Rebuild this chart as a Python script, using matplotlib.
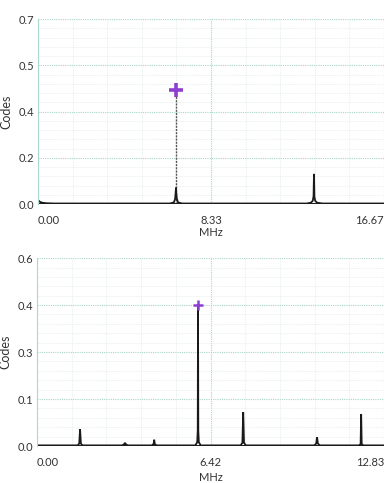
import matplotlib
matplotlib.use("Agg")
import matplotlib.pyplot as plt
import numpy as np

plt.rcParams['font.family'] = ['Lato', 'DejaVu Sans']

# top spectrum (MHz, Codes)
f_top = [0.0, 0.04, 0.1, 0.2, 0.4, 0.8, 6.35, 6.55, 6.61, 6.64, 6.65, 6.66, 6.69, 6.75, 6.95,
         12.95, 13.15, 13.24, 13.28, 13.3, 13.32, 13.36, 13.45, 13.7, 16.67]
a_top = [0.014, 0.012, 0.008, 0.005, 0.003, 0.002, 0.002, 0.006, 0.02, 0.05, 0.062, 0.045, 0.02, 0.006, 0.002,
         0.002, 0.005, 0.012, 0.03, 0.114, 0.028, 0.012, 0.005, 0.002, 0.002]
top_peak = (6.65, 0.43)
top_xticks = [0.0, 8.335, 16.67]
top_xlabels = ['0.00', '8.33', '16.67']
top_yticks = [0.0, 0.175, 0.35, 0.525, 0.7]
top_ylabels = ['0.0', '0.2', '0.4', '0.5', '0.7']

# bottom spectrum
f_bot = [0.0, 1.5, 1.56, 1.59, 1.62, 1.68, 3.15, 3.22, 3.25, 3.28, 3.35, 4.25, 4.31, 4.33, 4.35, 4.41,
         5.85, 5.92, 5.94, 5.95, 5.96, 5.98, 6.05, 7.52, 7.59, 7.62, 7.65, 7.72,
         10.25, 10.32, 10.35, 10.38, 10.45, 11.9, 11.96, 11.98, 12.0, 12.06, 12.83]
a_bot = [0.002, 0.002, 0.008, 0.054, 0.008, 0.002, 0.002, 0.006, 0.01, 0.006, 0.002, 0.002, 0.007, 0.02, 0.007, 0.002,
         0.002, 0.012, 0.05, 0.45, 0.05, 0.012, 0.002, 0.002, 0.01, 0.108, 0.01, 0.002,
         0.002, 0.008, 0.028, 0.008, 0.002, 0.002, 0.006, 0.102, 0.006, 0.002, 0.002]
bot_peak = (5.95, 0.45)
bot_xticks = [0.0, 6.415, 12.83]
bot_xlabels = ['0.00', '6.42', '12.83']
bot_yticks = [0.0, 0.15, 0.3, 0.45, 0.6]
bot_ylabels = ['0.0', '0.1', '0.3', '0.4', '0.6']

fig = plt.figure(figsize=(3.9, 4.83), dpi=100)

def panel(rect, f, a, peak, xt, xl, yt, yl, msize, mew, dotted_stem, xlab_y):
    ax = fig.add_axes(rect)
    xmax = xt[-1]
    ymax = yt[-1]
    ax.set_xlim(0, xmax)
    ax.set_ylim(0, ymax)
    ax.set_xticks(xt)
    ax.set_xticklabels(xl)
    ax.set_yticks(yt)
    ax.set_yticklabels(yl)
    ax.set_xticks(np.linspace(0, xmax, 11), minor=True)
    ax.set_yticks(np.linspace(0, ymax, 21), minor=True)
    ax.grid(which='minor', color='#e4ecea', lw=0.6, ls=(0, (1, 1)))
    ax.grid(which='major', color='#a9d6cc', lw=0.8, ls=(0, (1, 1)))
    ax.set_axisbelow(True)
    for s in ['top', 'right', 'bottom']:
        ax.spines[s].set_visible(False)
    ax.spines['left'].set_color('#a9d9cf')
    ax.tick_params(which='both', length=0, labelsize=8, colors='#333333')
    ax.tick_params(axis='x', pad=8)
    ax.tick_params(axis='y', pad=3)
    labs = ax.get_xticklabels()
    labs[0].set_ha('left')
    labs[-1].set_ha('right')
    if dotted_stem:
        ax.vlines(peak[0], 0, peak[1], color='#555555', lw=1.0, ls=(0, (1.5, 0.8)))
    ax.plot(f, a, color='#1a1a1a', lw=1.3, solid_joinstyle='miter')
    ax.axhline(0.001 * ymax, color='#1a1a1a', lw=1.4)
    ax.plot([peak[0]], [peak[1]], marker='+', color='#8e3fd0', ms=msize, mew=mew, clip_on=False)
    ax.set_xlabel('MHz', fontsize=8, color='#333333')
    ax.set_ylabel('Codes', fontsize=9, color='#333333')
    ax.xaxis.set_label_coords(0.5, xlab_y)
    ax.yaxis.set_label_coords(-0.075, 0.5)
    return ax

panel([0.0974, 0.5776, 0.887, 0.383], f_top, a_top, top_peak,
      top_xticks, top_xlabels, top_yticks, top_ylabels, 10, 2.6, True, -0.125)
panel([0.095, 0.0766, 0.89, 0.389], f_bot, a_bot, bot_peak,
      bot_xticks, bot_xlabels, bot_yticks, bot_ylabels, 7, 1.8, False, -0.14)

fig.savefig('out.png', dpi=100)
